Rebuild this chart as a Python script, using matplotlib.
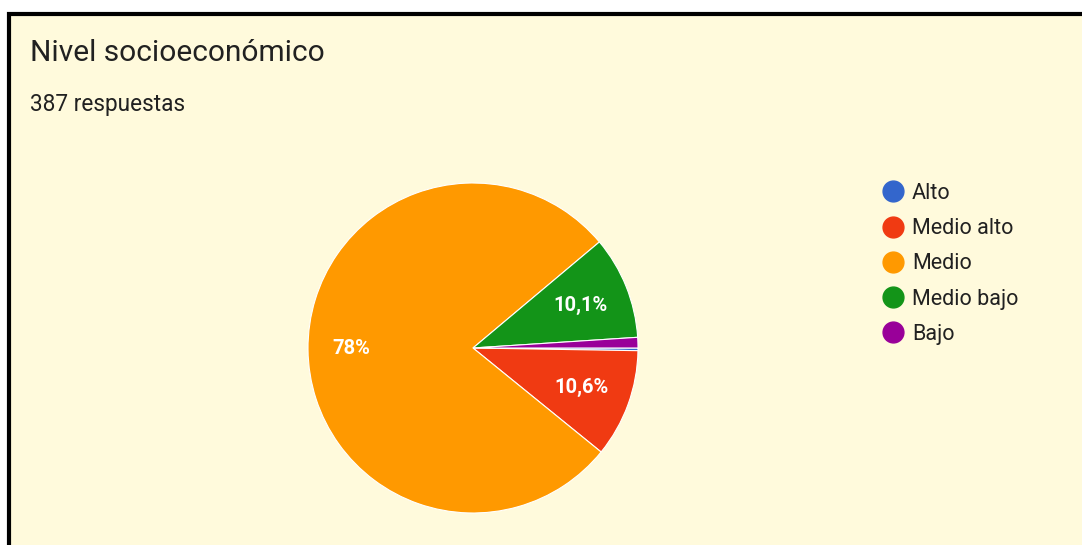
import numpy as np
import matplotlib.pyplot as plt
import matplotlib.patches as patches
from matplotlib.lines import Line2D

plt.rcParams['font.family'] = ['Roboto', 'DejaVu Sans']

# data: answers per level (387 total)
levels = ['Alto', 'Medio alto', 'Medio', 'Medio bajo', 'Bajo']
counts = [1, 41, 302, 39, 4]
colours = ['#3366CC', '#F03A12', '#FF9900', '#139418', '#990099']
title = 'Nivel socioeconómico'
subtitle = '387 respuestas'

W, H = 1082, 545
fig = plt.figure(figsize=(W / 100, H / 100), dpi=100)
fig.patch.set_facecolor('white')

# card with black border (top / left only visible)
card = patches.Rectangle((9 / W, -0.2), 1.2, (H - 14) / H + 0.2, transform=fig.transFigure,
                         facecolor='#FFFADC', edgecolor='black', linewidth=3, zorder=-5)
fig.patches.append(card)

fig.text(30 / W, 1 - 53 / H, title, fontsize=21.5, color='#212121', va='center', ha='left')
fig.text(30 / W, 1 - 104 / H, subtitle, fontsize=16.3, color='#212121', va='center', ha='left')

# pie centre (473, 348), radius 165 px
cx, cy, r = 473, 348, 165
ax = fig.add_axes([(cx - r) / W, (H - cy - r) / H, 2 * r / W, 2 * r / H], zorder=2)
ax.set_facecolor('none')


def fmt(pct):
    if pct < 5:
        return ''
    s = '{:.1f}'.format(pct)
    if s.endswith('.0'):
        s = s[:-2]
    return s.replace('.', ',') + '%'


wedges, texts, autotexts = ax.pie(counts, colors=colours, startangle=0, counterclock=False,
                                  autopct=fmt, pctdistance=0.7, radius=1,
                                  wedgeprops=dict(edgecolor='white', linewidth=0.8),
                                  textprops=dict(color='white', fontsize=14.5, fontweight='semibold'))
# big slice label sits a bit further out
autotexts[2].set_x(autotexts[2].get_position()[0] * 1.05)
ax.set_xlim(-1, 1)
ax.set_ylim(-1, 1)
ax.axis('off')

handles = [Line2D([0], [0], marker='o', linestyle='none', markersize=15,
                  markerfacecolor=c, markeredgecolor=c) for c in colours]
fig.legend(handles, levels, loc='upper left', bbox_to_anchor=(882 / W, 1 - 183 / H),
           frameon=False, fontsize=15.5, labelspacing=0.66, handletextpad=0.4,
           handlelength=1.0, borderaxespad=0, borderpad=0, labelcolor='#212121')

plt.savefig('out.png', dpi=100)
